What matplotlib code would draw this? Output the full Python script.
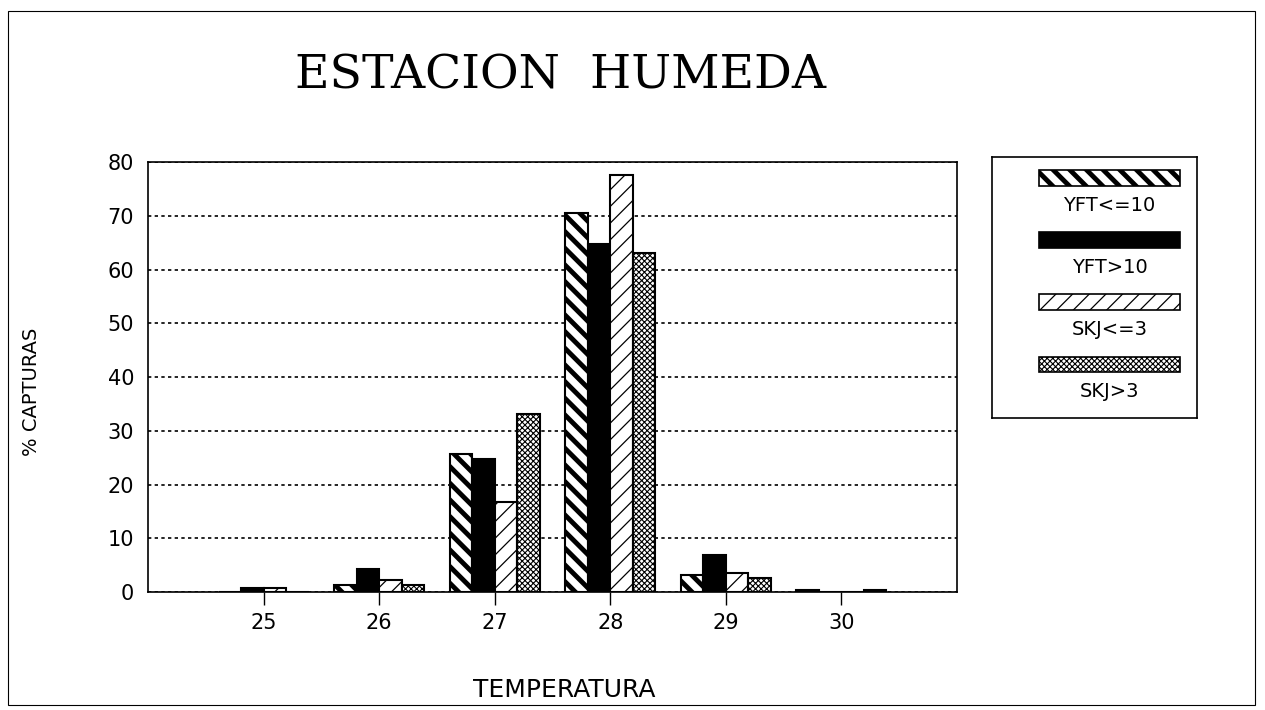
import numpy as np
import matplotlib
matplotlib.use("Agg")
from matplotlib import pyplot as plt
from matplotlib.patches import Rectangle

# % capturas por temperatura, estacion humeda
temps = [25, 26, 27, 28, 29, 30]
yft_small = [0.0, 1.3, 25.6, 70.6, 3.1, 0.4]   # YFT<=10
yft_large = [0.7, 4.2, 24.7, 64.8, 6.8, 0.0]   # YFT>10
skj_small = [0.8, 2.2, 16.8, 77.6, 3.5, 0.0]   # SKJ<=3
skj_large = [0.0, 1.3, 33.2, 63.0, 2.6, 0.4]   # SKJ>3

labels = ["YFT<=10", "YFT>10", "SKJ<=3", "SKJ>3"]
series = [yft_small, yft_large, skj_small, skj_large]
y_ticks = [0, 10, 20, 30, 40, 50, 60, 70, 80]

# facecolor, hatch, hatch linewidth
styles = [
    ("white", "\\\\", 3.5),
    ("black", "", 1.0),
    ("white", "//", 0.9),
    ("white", "xxxxxx", 0.8),
]

plt.rcParams["font.family"] = ["DejaVu Sans"]

fig = plt.figure(figsize=(12.65, 7.10), dpi=100)
ax = fig.add_axes([0.117, 0.1662, 0.6395, 0.6056])

w = 0.195
x = np.array(temps, dtype=float)
for i, (vals, lab) in enumerate(zip(series, labels)):
    fc, hatch, hlw = styles[i]
    bars = ax.bar(x + (i - 1.5) * w, vals, width=w, facecolor=fc,
                  edgecolor="black", hatch=hatch, linewidth=1.5, label=lab,
                  zorder=3)
    for b in bars:
        if hasattr(b, "set_hatch_linewidth"):
            b.set_hatch_linewidth(hlw)

ax.set_xlim(24, 31)
ax.set_ylim(0, 80)
ax.set_xticks(temps)
ax.set_xticklabels([str(t) for t in temps], fontsize=15)
ax.set_yticks(y_ticks)
ax.set_yticklabels([str(t) for t in y_ticks], fontsize=15)
ax.tick_params(axis="x", direction="out", length=9, width=1, pad=6)
ax.tick_params(axis="y", length=0, pad=10)
ax.yaxis.grid(True, linestyle=(0, (2, 2)), color="black", linewidth=1.2, zorder=1)
ax.set_axisbelow(True)
for s in ax.spines.values():
    s.set_linewidth(1.2)

fig.text(0.443, 0.893, "ESTACION  HUMEDA", family="DejaVu Serif",
         fontsize=34, ha="center", va="center")
fig.text(0.446, 0.028, "TEMPERATURA", fontsize=18, ha="center", va="center")
fig.text(0.025, 0.448, "% CAPTURAS", fontsize=14, rotation=90,
         ha="center", va="center")

# leyenda: muestra arriba, texto abajo
lax = fig.add_axes([0.784, 0.411, 0.162, 0.368])
lax.set_xlim(0, 1)
lax.set_ylim(0, 1)
lax.set_xticks([])
lax.set_yticks([])
for s in lax.spines.values():
    s.set_linewidth(1.2)
for i, lab in enumerate(labels):
    fc, hatch, hlw = styles[i]
    top = 0.95 - i * 0.238
    r = Rectangle((0.23, top - 0.06), 0.69, 0.06, facecolor=fc,
                  edgecolor="black", hatch=hatch, linewidth=1.2)
    if hasattr(r, "set_hatch_linewidth"):
        r.set_hatch_linewidth(hlw)
    lax.add_patch(r)
    lax.text(0.575, top - 0.135, lab, fontsize=14, ha="center", va="center")

fig.add_artist(Rectangle((0.006, 0.007), 0.986, 0.978, transform=fig.transFigure,
                         fill=False, edgecolor="black", linewidth=0.8))

fig.savefig("out.png", dpi=100)
